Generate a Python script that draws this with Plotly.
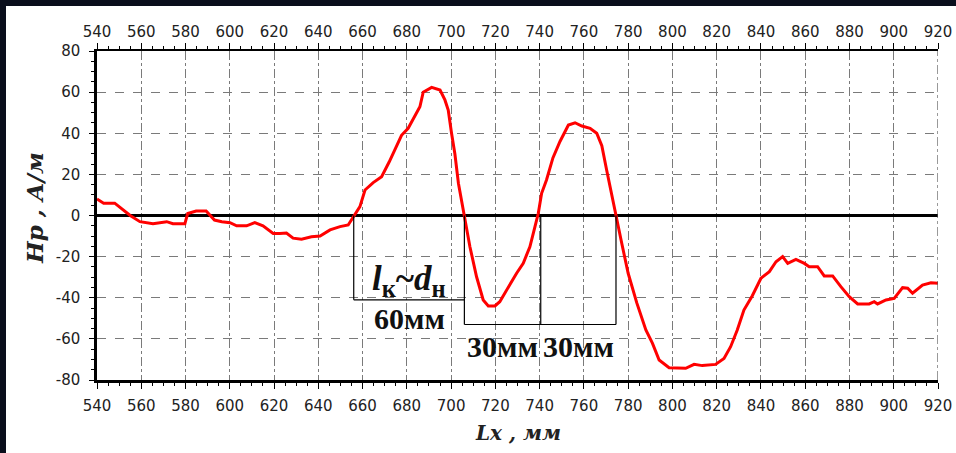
import plotly.graph_objects as go

# Measured field profile along the pipe
x_mm = [540, 543, 548, 552, 555, 559.4, 565.3, 571.5, 574.3, 579.7, 581, 584.8,
        589.3, 593.1, 596.4, 600.1, 603.1, 607.6, 611.3, 615, 619.6, 622.6, 625.6,
        628.6, 632.4, 636.9, 640.8, 645.3, 649.8, 653.5, 655.8, 658.8, 661.1, 664.8,
        668.6, 672, 677.6, 680.6, 685.9, 687.4, 691.2, 695, 697.2, 698.7, 700.2,
        701.7, 703.3, 705.9, 708.5, 711.5, 714.5, 716.8, 719.8, 722, 725, 729.6,
        732.6, 735.6, 737.9, 739.4, 740.9, 743.1, 746, 749.2, 753, 756, 759.1,
        762.8, 765.8, 768.1, 770.3, 773.3, 774.8, 777.1, 780, 783.9, 788, 791, 794,
        798.5, 806, 809.8, 813.5, 819.5, 823.3, 826.3, 829.3, 832.3, 836.1, 840,
        843.8, 846.8, 849.8, 852.1, 855.8, 859.6, 861.8, 865.6, 868.6, 872.4, 876.1,
        879.9, 883.7, 888.9, 891.2, 892.7, 896.5, 900.2, 904, 906.3, 908.5, 913,
        916.8, 920]
hp = [8, 6, 6, 2.7, 0, -3, -4, -3, -4, -4, 1, 2.2,
      2.2, -2.2, -3, -3.5, -5, -5, -3.5, -5, -8.7, -8.7, -8.5,
      -11, -11.5, -10.3, -10, -7, -5.4, -4.6, -0.6, 4.3, 12.4, 16,
      18.9, 26, 39, 42.4, 52.9, 60, 62.3, 61, 56.2, 51.3, 40,
      30, 15.7, -0.6, -15.2, -29.8, -41.1, -44, -44, -41.9, -36.2, -28.1,
      -23.2, -15.2, -5.4, 1.1, 10.8, 17.3, 28, 36, 44, 45.1, 43.5,
      42.4, 40, 34, 22, 5.9, -0.6, -13.5, -28.1, -42.5, -55.7, -62.2, -70.3,
      -74, -74.3, -72.4, -73, -72.4, -69.5, -63.8, -55.7, -46, -39, -30.5,
      -27.3, -22.5, -20, -23.3, -21.3, -23.3, -24.9, -24.9, -29.4, -29.4, -34.6,
      -39.5, -43, -43, -41.9, -43, -41.1, -40.3, -35.1, -35.4, -37.8, -33.8,
      -32.7, -33]

x_ticks = list(range(540, 921, 20))
y_ticks = [-80, -60, -40, -20, 0, 20, 40, 60, 80]
y_tick_text = ["-80", "-60", "-40", "-20", "0", "20", "40", "60", "80"]

# Zero crossings marked with dimension brackets
crossings = [656, 706, 740.5, 774.5]
bracket_levels = [-41, -53]
bracket_labels = ["60мм", "30мм", "30мм"]

W, H = 956, 453
L, R, T, B = 97, 18, 51, 73
PW, PH = W - L - R, H - T - B

def px_x(p):
    return (p - L) / PW

def px_y(p):
    return (H - B - p) / PH

fig = go.Figure()
fig.add_trace(go.Scatter(x=x_mm, y=hp, mode="lines",
                         line=dict(color="#ff0000", width=3),
                         hoverinfo="skip", showlegend=False))
# carrier trace so the top axis is drawn
fig.add_trace(go.Scatter(x=x_mm, y=hp, xaxis="x2", mode="lines",
                         line=dict(color="rgba(0,0,0,0)", width=0),
                         hoverinfo="skip", showlegend=False))

tick_font = dict(family="DejaVu Sans, Arial, sans-serif", size=15, color="#222222")
minor_x = dict(dtick=5, ticklen=3, ticks="outside", tickcolor="black")

fig.update_layout(
    width=W, height=H,
    margin=dict(l=L, r=R, t=T, b=B, pad=0),
    paper_bgcolor="white", plot_bgcolor="white",
    showlegend=False,
    xaxis=dict(range=[540, 920], tickvals=x_ticks, ticks="outside", ticklen=6,
               tickcolor="black", tickfont=tick_font, ticklabelstandoff=4,
               showline=True, linecolor="black", linewidth=2.5,
               showgrid=True, gridcolor="#7a7a7a", gridwidth=1,
               griddash="dashdot", zeroline=False, automargin=False,
               minor=minor_x),
    xaxis2=dict(range=[540, 920], overlaying="x", side="top", matches="x",
                tickvals=x_ticks, ticks="outside", ticklen=6, tickcolor="black",
                tickfont=tick_font, ticklabelstandoff=0,
                showline=True, linecolor="black", linewidth=2,
                showgrid=False, zeroline=False, automargin=False,
                minor=minor_x),
    yaxis=dict(range=[-80, 80], tickvals=y_ticks, ticktext=y_tick_text,
               ticks="outside", ticklen=5, tickcolor="black", tickfont=tick_font,
               ticklabelstandoff=6,
               showline=True, linecolor="black", linewidth=2.5,
               showgrid=True, gridcolor="#7a7a7a", gridwidth=1, griddash="dash",
               zeroline=True, zerolinecolor="black", zerolinewidth=3,
               automargin=False,
               minor=dict(dtick=5, ticklen=3, ticks="outside", tickcolor="black")),
)

shapes = []
# right frame edge at 920
shapes.append(dict(type="line", xref="x", yref="y", x0=920, x1=920, y0=-80, y1=80,
                   line=dict(color="#555555", width=1.2, dash="dashdot")))
# dimension brackets
c0, c1, c2, c3 = crossings
lv1, lv2 = bracket_levels
blk = dict(color="black", width=1.2)
shapes += [
    dict(type="line", xref="x", yref="y", x0=c0, x1=c0, y0=0, y1=lv1, line=blk),
    dict(type="line", xref="x", yref="y", x0=c0, x1=c1, y0=lv1, y1=lv1, line=blk),
    dict(type="line", xref="x", yref="y", x0=c1, x1=c1, y0=0, y1=lv2, line=blk),
    dict(type="line", xref="x", yref="y", x0=c1, x1=c3, y0=lv2, y1=lv2, line=blk),
    dict(type="line", xref="x", yref="y", x0=c2, x1=c2, y0=0, y1=lv2, line=blk),
    dict(type="line", xref="x", yref="y", x0=c3, x1=c3, y0=0, y1=lv2, line=blk),
]
# dark frame strips along the left and top edges of the page
dark = "#0a0e1c"
shapes += [
    dict(type="rect", xref="paper", yref="paper", layer="above",
         x0=px_x(0), x1=px_x(6), y0=px_y(H), y1=px_y(0),
         fillcolor=dark, line=dict(width=0)),
    dict(type="rect", xref="paper", yref="paper", layer="above",
         x0=px_x(0), x1=px_x(W), y0=px_y(6), y1=px_y(0),
         fillcolor=dark, line=dict(width=0)),
]
fig.update_layout(shapes=shapes)

serif_b = dict(family="Liberation Serif, Times New Roman, serif", size=30,
               color="#111111", weight="bold")
ann = [
    dict(x=(c0 + c1) / 2, y=-31.5, xref="x", yref="y", showarrow=False,
         text="<i>l</i><sub>к</sub>~<i>d</i><sub>н</sub>",
         font=dict(family="Liberation Serif, Times New Roman, serif", size=35,
                   color="#111111", weight="bold")),
    dict(x=(c0 + c1) / 2, y=-50, xref="x", yref="y", showarrow=False,
         text=bracket_labels[0], font=serif_b),
    dict(x=(c1 + c2) / 2, y=-63.5, xref="x", yref="y", showarrow=False,
         text=bracket_labels[1], font=serif_b),
    dict(x=(c2 + c3) / 2, y=-63.5, xref="x", yref="y", showarrow=False,
         text=bracket_labels[2], font=serif_b),
    # axis titles
    dict(x=0.5, y=px_y(433), xref="paper", yref="paper", showarrow=False,
         xanchor="center", yanchor="middle", text="Lx , мм",
         font=dict(family="DejaVu Serif, serif", size=20, color="#222222",
                   weight="bold", style="italic")),
    dict(x=px_x(34), y=px_y(208), xref="paper", yref="paper", showarrow=False,
         xanchor="center", yanchor="middle", textangle=-90, text="Нр , А/м",
         font=dict(family="DejaVu Serif, serif", size=23, color="#222222",
                   weight="bold", style="italic")),
]
fig.update_layout(annotations=ann)

fig.write_html("out.html")
